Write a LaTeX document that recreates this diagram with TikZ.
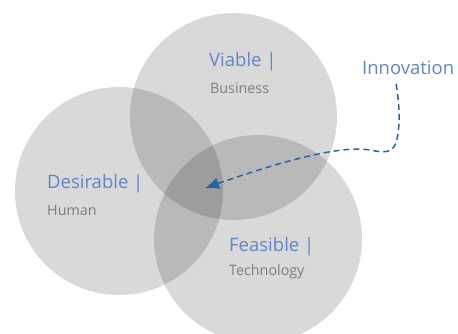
\documentclass[tikz,border=0pt]{standalone}
\usepackage{fontspec}
\setmainfont{Open Sans}
\usetikzlibrary{arrows.meta}
\definecolor{headblue}{RGB}{98,132,196}
\definecolor{subgray}{RGB}{125,125,125}
\definecolor{arrowblue}{RGB}{44,98,160}
\tikzset{
  area/.style={fill=black, fill opacity=0.15},
  head/.style={anchor=west, inner sep=0pt, text=headblue, font=\fontsize{18.5}{22}\selectfont},
  sub/.style={anchor=west, inner sep=0pt, text=subgray, font=\fontsize{14.3}{17}\selectfont},
  innovarrow/.style={arrowblue, line width=1.5pt, dash pattern=on 6pt off 4pt,
    -{Latex[length=14pt,width=12pt]}}
}
\begin{document}
\begin{tikzpicture}[x=1pt,y=-1pt]
\useasboundingbox (0,0) rectangle (458,333);

% the three circles
\fill[area] (233.5,116.5) circle[radius=103.5pt];
\fill[area] (119,191) circle[radius=104pt];
\fill[area] (258,239) circle[radius=104pt];

% labels
\node[head] (viable) at (209,62) {Viable |};
\node[sub] (business) at (210,88) {Business};
\node[head] (desirable) at (47,184) {Desirable |};
\node[sub] (human) at (47,210) {Human};
\node[head] (feasible) at (229,247) {Feasible |};
\node[sub] (technology) at (229,272) {Technology};

\node[head] (innov) at (362,68) {Innovation};
\coordinate (core) at (205,188);

\draw[innovarrow] ([xshift=-12pt,yshift=-9pt]innov.south) .. controls +(3,20) and (401,125) .. (396,143)
  .. controls (392,153) and (385,153) .. (370,150)
  .. controls (345,146) and (300,155) .. (core);
\end{tikzpicture}
\end{document}
